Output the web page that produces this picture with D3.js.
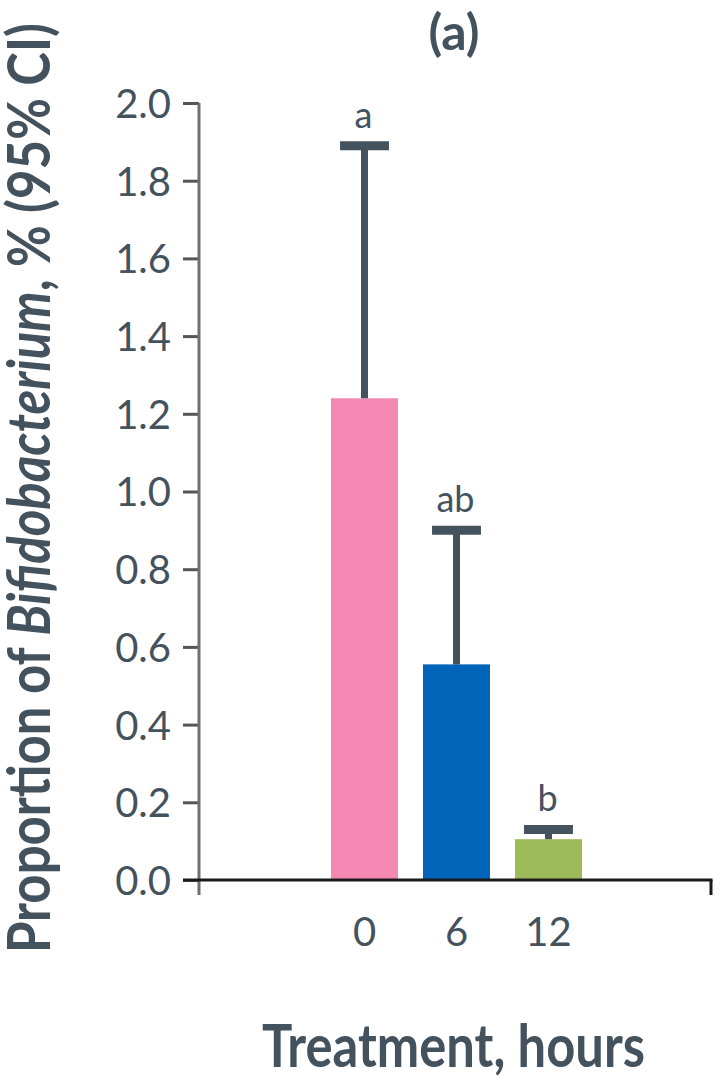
<!DOCTYPE html>
<html><head><meta charset="utf-8">
<script src="https://cdn.jsdelivr.net/npm/d3@7"></script>
<style>html,body{margin:0;padding:0;background:#fff;}</style>
</head><body>
<svg id="chart" width="719" height="1077"></svg>
<script>
const categories = ["0", "6", "12"];
const means = [1.24, 0.555, 0.105];
const upperCI = [1.89, 0.90, 0.13];
const letters = ["a", "ab", "b"];
const colors = ["#f389b2", "#0065b8", "#9cba58"];
const yTicks = [0, 0.2, 0.4, 0.6, 0.8, 1.0, 1.2, 1.4, 1.6, 1.8, 2.0];

const textCol = "#44525e";
const svg = d3.select("#chart");
const axisX = 199, plotRight = 711, yBottom = 880, yTop = 103;

const y = d3.scaleLinear().domain([0, 2]).range([yBottom, yTop]);
const x = d3.scaleBand().domain(categories).range([318.5, 594.5]).paddingInner(0.2717).paddingOuter(0.1359);

// bars
svg.selectAll("rect.bar").data(categories).join("rect")
  .attr("x", d => x(d)).attr("width", x.bandwidth())
  .attr("y", (d, i) => y(means[i])).attr("height", (d, i) => y(0) - y(means[i]))
  .attr("fill", (d, i) => colors[i]);

// error bars
const capW = x.bandwidth() * 0.73;
svg.selectAll("line.stem").data(categories).join("line")
  .attr("x1", d => x(d) + x.bandwidth() / 2).attr("x2", d => x(d) + x.bandwidth() / 2)
  .attr("y1", (d, i) => y(means[i])).attr("y2", (d, i) => y(upperCI[i]))
  .attr("stroke", "#44525e").attr("stroke-width", 7);
svg.selectAll("line.cap").data(categories).join("line")
  .attr("x1", d => x(d) + x.bandwidth() / 2 - capW / 2).attr("x2", d => x(d) + x.bandwidth() / 2 + capW / 2)
  .attr("y1", (d, i) => y(upperCI[i])).attr("y2", (d, i) => y(upperCI[i]))
  .attr("stroke", "#44525e").attr("stroke-width", 9);

// significance letters
svg.selectAll("text.sig").data(categories).join("text")
  .attr("x", d => x(d) + x.bandwidth() / 2 - 1)
  .attr("y", (d, i) => y(upperCI[i]) - 18)
  .attr("text-anchor", "middle")
  .attr("font-family", "Lato, sans-serif").attr("font-size", 36)
  .attr("fill", textCol)
  .text((d, i) => letters[i]);

// y axis
const yAxis = d3.axisLeft(y).tickValues(yTicks).tickFormat(d3.format(".1f")).tickSize(16).tickPadding(12);
const gy = svg.append("g").attr("transform", `translate(${axisX},0)`).call(yAxis);
gy.select(".domain").remove();
gy.append("line").attr("x1", 0).attr("x2", 0).attr("y1", yTop).attr("y2", yBottom + 15)
  .attr("stroke", "#6f6f6f").attr("stroke-width", 3);
gy.selectAll(".tick line").attr("stroke", "#555").attr("stroke-width", 3);
gy.selectAll(".tick text").attr("font-family", "Lato, sans-serif").attr("font-size", 40)
  .attr("fill", textCol).attr("dy", "0.36em");

// x axis
const xAxis = d3.axisBottom(x).tickSize(0).tickPadding(38);
const gx = svg.append("g").attr("transform", `translate(0,${yBottom})`).call(xAxis);
gx.select(".domain").remove();
gx.append("line").attr("x1", axisX - 16).attr("x2", plotRight + 1.5).attr("y1", 0).attr("y2", 0)
  .attr("stroke", "#1a1a1a").attr("stroke-width", 3);
gx.append("line").attr("x1", plotRight).attr("x2", plotRight).attr("y1", 0).attr("y2", 15)
  .attr("stroke", "#1a1a1a").attr("stroke-width", 3);
gx.selectAll(".tick text").attr("font-family", "Lato, sans-serif").attr("font-size", 40)
  .attr("fill", textCol).attr("dy", "0.71em");

// titles
svg.append("text").attr("x", 454).attr("y", 50).attr("text-anchor", "middle")
  .attr("font-family", "Lato, sans-serif").attr("font-weight", 700).attr("font-size", 50)
  .attr("fill", textCol).text("(a)");

svg.append("text").attr("x", 453.5).attr("y", 1067).attr("text-anchor", "middle")
  .attr("font-family", "Lato, sans-serif").attr("font-weight", 700).attr("font-size", 60)
  .attr("textLength", 383).attr("lengthAdjust", "spacingAndGlyphs")
  .attr("fill", textCol).text("Treatment, hours");

const yl = svg.append("text").attr("transform", "rotate(-90)")
  .attr("x", -488).attr("y", 50).attr("text-anchor", "middle")
  .attr("font-family", "Lato, sans-serif").attr("font-weight", 700).attr("font-size", 60)
  .attr("textLength", 930).attr("lengthAdjust", "spacingAndGlyphs")
  .attr("fill", textCol);
yl.append("tspan").text("Proportion of ");
yl.append("tspan").attr("font-style", "italic").text("Bifidobacterium");
yl.append("tspan").text(", % (95% CI)");
</script>
</body></html>
